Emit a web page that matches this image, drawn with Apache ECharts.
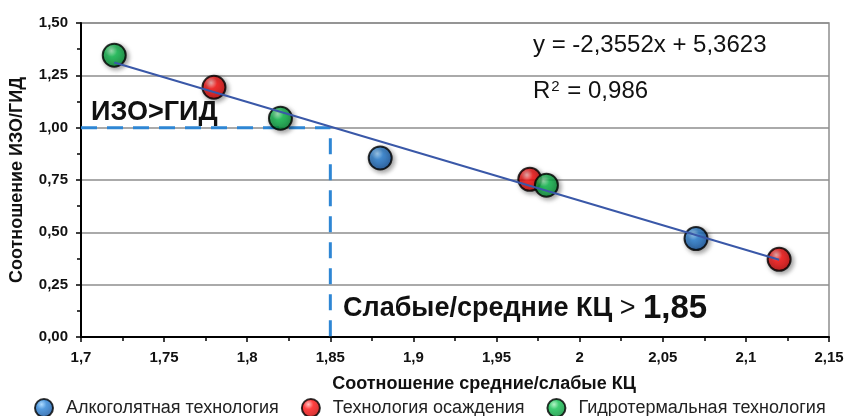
<!DOCTYPE html>
<html><head><meta charset="utf-8">
<script src="https://cdn.jsdelivr.net/npm/echarts@6/dist/echarts.min.js"></script>
<style>html,body{margin:0;padding:0;background:#fff}#c{width:847px;height:416px}</style>
</head><body><div id="c"></div>
<script>
var seriesNames = ['Алкоголятная технология', 'Технология осаждения', 'Гидротермальная технология'];
var blueX = [1.88, 2.07];
var blueY = [0.855, 0.47];
var redX = [1.78, 1.97, 2.12];
var redY = [1.193, 0.753, 0.371];
var greenX = [1.72, 1.82, 1.98];
var greenY = [1.346, 1.045, 0.725];
var trendX = [1.72, 2.12];
var trendY = [1.311, 0.369];
var threshX = [1.7, 1.85, 1.85];
var threshY = [1.0, 1.0, 0.0];
var equationText = 'y = -2,3552x + 5,3623';
var r2Label = '0,986';

function zip(xs, ys) { return xs.map(function (x, i) { return [x, ys[i]]; }); }
var FF = 'Liberation Sans, Arial, sans-serif';
function grad(light, base, dark) {
  return new echarts.graphic.RadialGradient(0.38, 0.32, 0.7, [
    { offset: 0, color: light }, { offset: 0.35, color: base }, { offset: 1, color: dark }]);
}
function scat(name, xs, ys, light, base, dark) {
  return {
    name: name, type: 'scatter', data: zip(xs, ys), symbolSize: 23, z: 3,
    itemStyle: { color: grad(light, base, dark), borderColor: '#000', borderWidth: 2,
      shadowBlur: 5, shadowColor: 'rgba(0,0,0,0.45)', shadowOffsetX: 2, shadowOffsetY: 2 }
  };
}
var chart = echarts.init(document.getElementById('c'));
chart.setOption({
  animation: false,
  grid: { left: 79, right: 18, top: 23, bottom: 79, show: true, borderColor: '#8e8e8e', borderWidth: 1.5 },
  xAxis: {
    type: 'value', min: 1.7, max: 2.15, interval: 0.05,
    name: 'Соотношение средние/слабые КЦ', nameLocation: 'middle', nameGap: 38,
    nameTextStyle: { fontFamily: FF, fontWeight: 'bold', fontSize: 18, color: '#111', padding: [0, 0, 0, 58] },
    axisLine: { lineStyle: { color: '#000', width: 2 } },
    axisTick: { length: 5, lineStyle: { color: '#000', width: 1.5 } },
    minorTick: { show: true, splitNumber: 2, length: 4, lineStyle: { color: '#000', width: 1.5 } },
    splitLine: { show: false },
    axisLabel: { fontFamily: FF, fontWeight: 'bold', fontSize: 15, color: '#111', margin: 13,
      formatter: function (v) { return String(+v.toFixed(3)).replace('.', ','); } }
  },
  yAxis: {
    type: 'value', min: 0, max: 1.5, interval: 0.25,
    name: 'Соотношение ИЗО/ГИД', nameLocation: 'middle', nameGap: 55,
    nameTextStyle: { fontFamily: FF, fontWeight: 'bold', fontSize: 18, color: '#111' },
    axisLine: { lineStyle: { color: '#000', width: 2 } },
    axisTick: { length: 5, lineStyle: { color: '#000', width: 1.5 } },
    minorTick: { show: true, splitNumber: 2, length: 4, lineStyle: { color: '#000', width: 1.5 } },
    splitLine: { lineStyle: { color: '#8e8e8e', width: 1.5 } },
    axisLabel: { fontFamily: FF, fontWeight: 'bold', fontSize: 15, color: '#111', margin: 13,
      formatter: function (v) { return v.toFixed(2).replace('.', ','); } }
  },
  legend: {
    data: seriesNames, left: 34, top: 398, padding: 0, itemWidth: 18, itemHeight: 18, itemGap: 22,
    icon: 'circle',
    textStyle: { fontFamily: FF, fontSize: 18, color: '#222', padding: [0, 0, 0, 8] }
  },
  series: [
    { type: 'line', data: zip(threshX, threshY), symbol: 'none', z: 2, silent: true,
      lineStyle: { color: '#2e86d4', width: 3, type: [16, 10] } },
    scat(seriesNames[0], blueX, blueY, '#9ad2ff', '#2a82d6', '#0f4e9a'),
    scat(seriesNames[1], redX, redY, '#ffb0b0', '#ff1010', '#c00000'),
    scat(seriesNames[2], greenX, greenY, '#a0f0b8', '#10c050', '#00852f'),
    { type: 'line', data: zip(trendX, trendY), symbol: 'none', z: 4, silent: true,
      lineStyle: { color: '#3a58a8', width: 2 } }
  ],
  graphic: [
    { type: 'text', left: 533, top: 33, z: 10,
      style: { text: equationText, font: '24px ' + FF, fill: '#111' } },
    { type: 'text', left: 533, top: 79, z: 10,
      style: { text: '{a|R}{s|2}{a| = ' + r2Label + '}', fill: '#111',
        rich: { a: { fontFamily: FF, fontSize: 24 }, s: { fontFamily: FF, fontSize: 15, verticalAlign: 'top', padding: [0, 1, 9, 1] } } } },
    { type: 'text', left: 91, top: 99, z: 10,
      style: { text: 'ИЗО>ГИД', font: 'bold 27px ' + FF, fill: '#111' } },
    { type: 'text', left: 343, top: 292, z: 10,
      style: { text: '{a|Слабые/средние КЦ }{b|> }{c|1,85}', fill: '#111',
        rich: { a: { fontFamily: FF, fontWeight: 'bold', fontSize: 27 },
                b: { fontFamily: FF, fontSize: 27 },
                c: { fontFamily: FF, fontWeight: 'bold', fontSize: 33 } } } }
  ]
});
</script></body></html>
